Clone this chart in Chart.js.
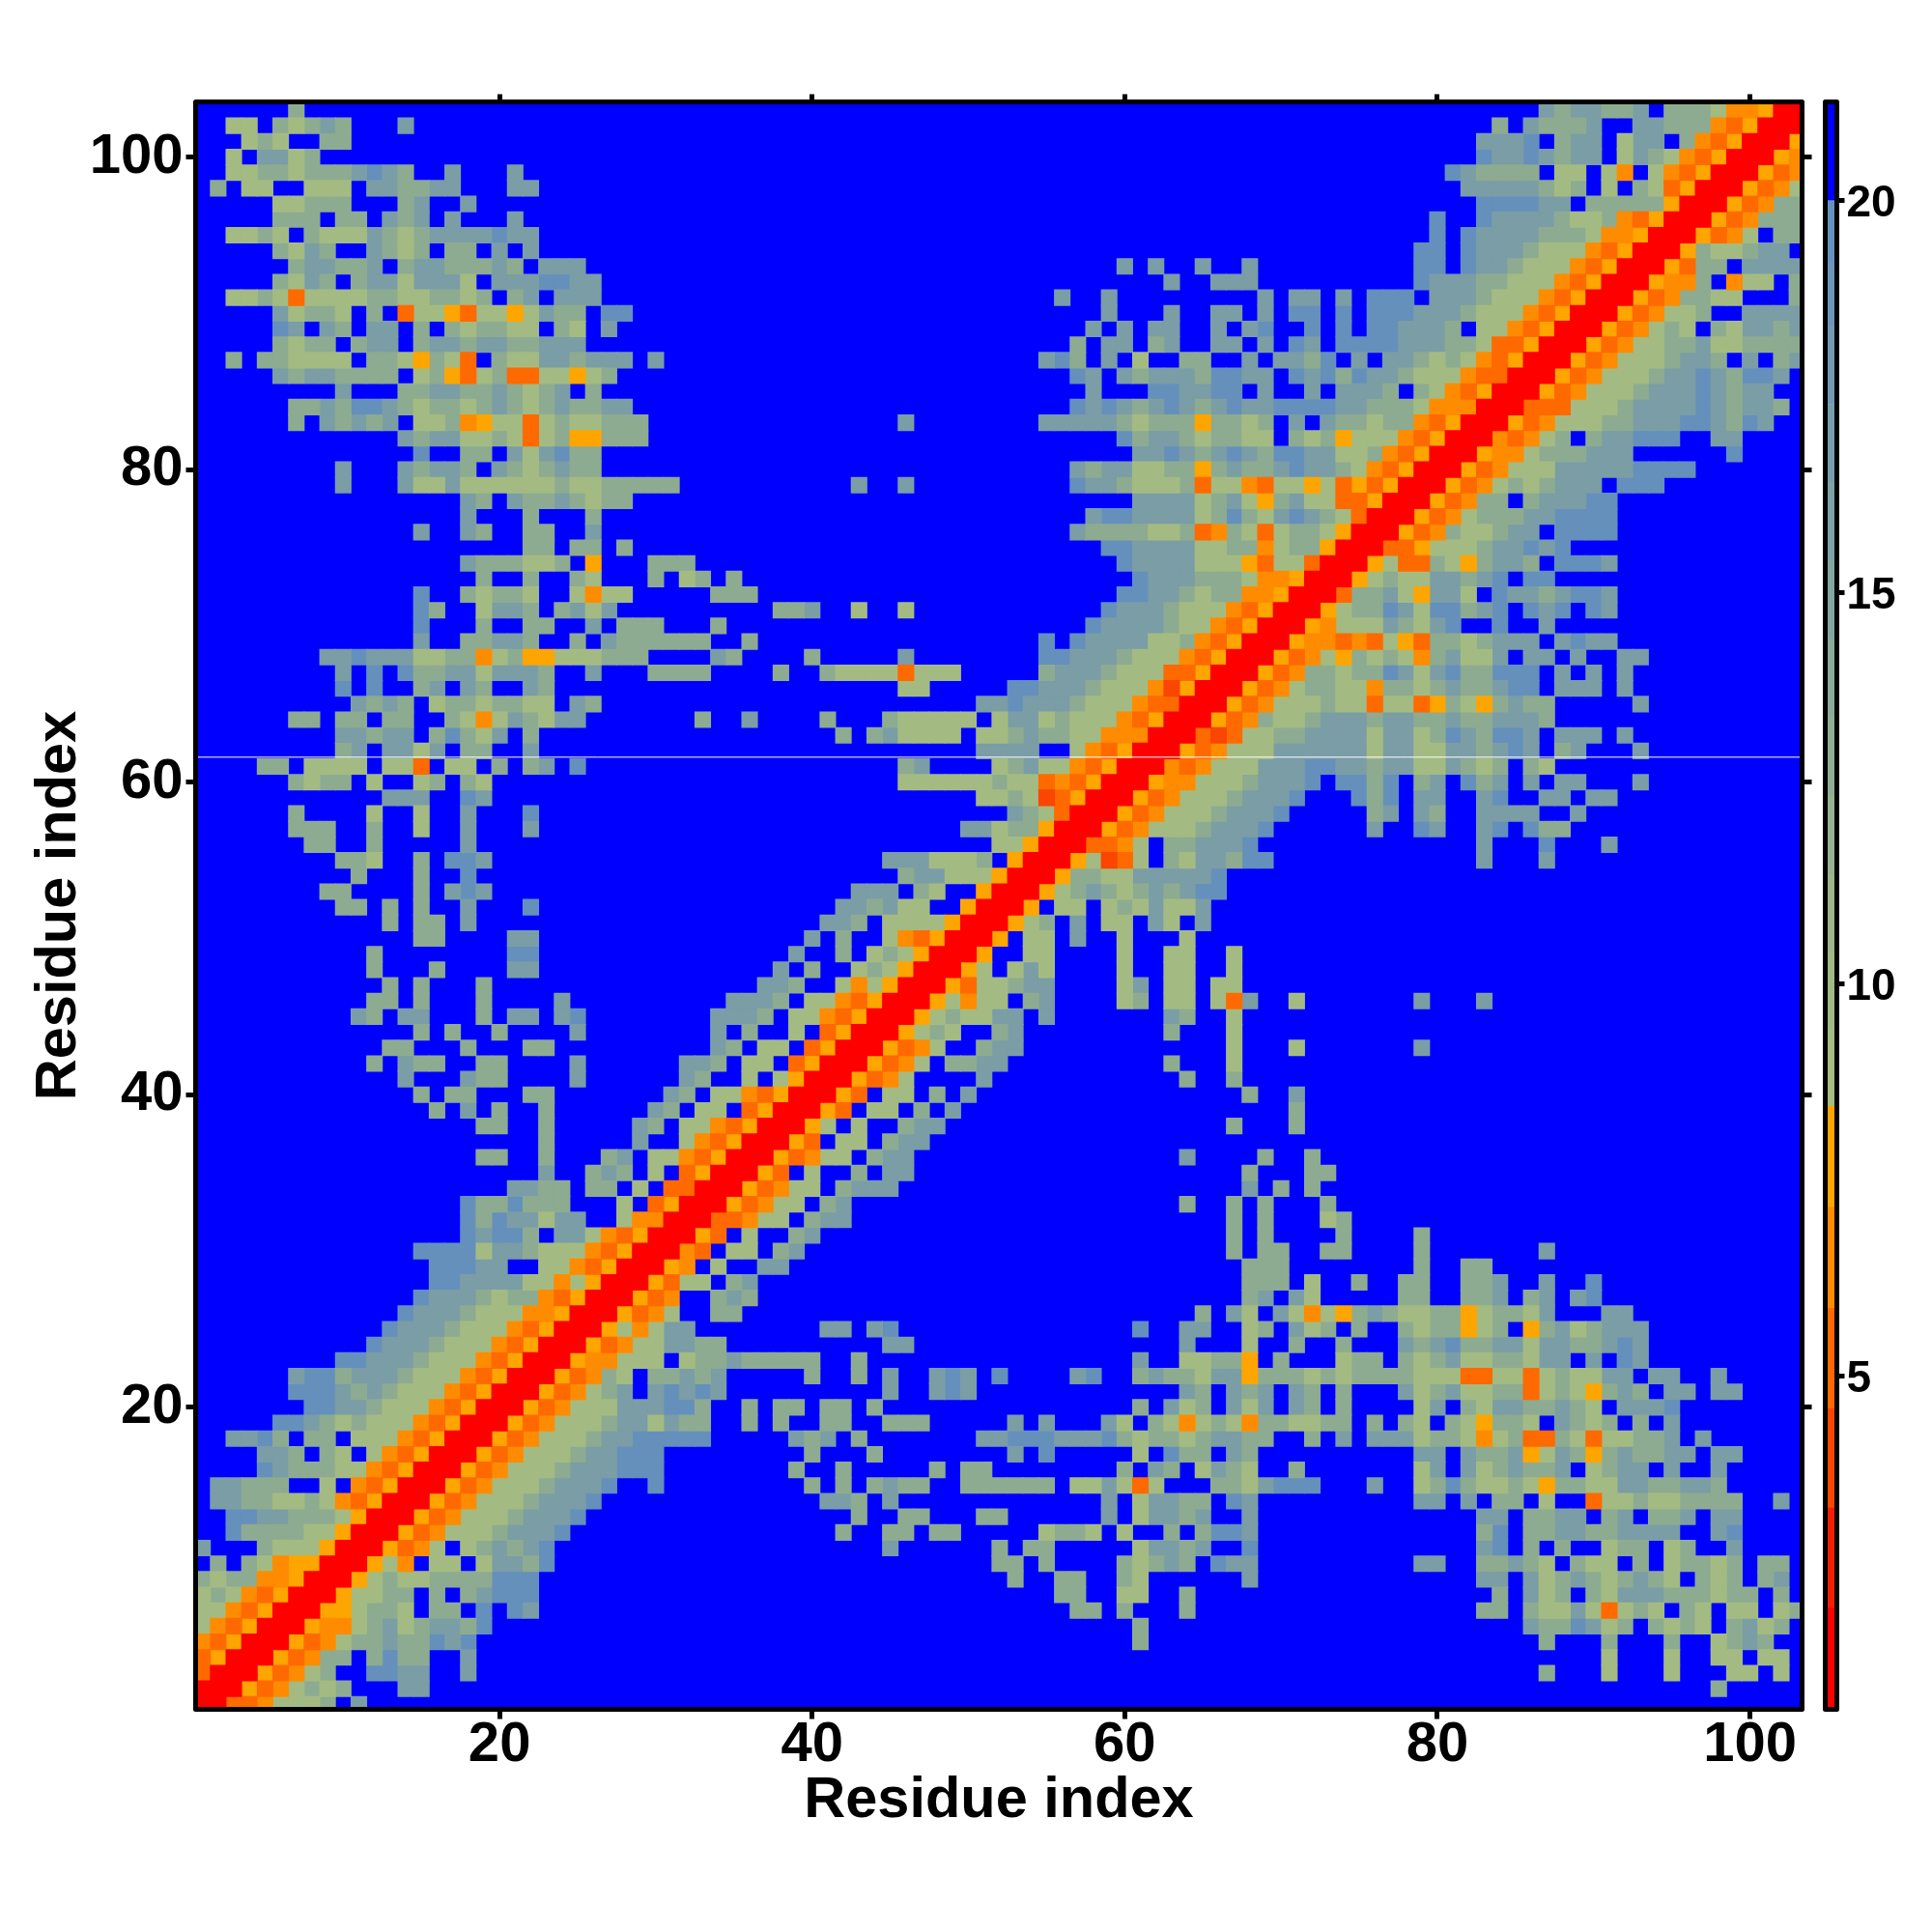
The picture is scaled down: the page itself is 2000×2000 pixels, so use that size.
<!DOCTYPE html>
<html>
<head>
<meta charset="utf-8">
<title>Residue contact map</title>
<script src="https://cdn.jsdelivr.net/npm/chart.js@4"></script>
<style>
html, body { margin: 0; padding: 0; background: #fff; }
canvas { position: absolute; left: 0; top: 0; }
</style>
</head>
<body>
<canvas id="mapChart" width="2000" height="2000"></canvas>
<canvas id="barChart" width="2000" height="2000"></canvas>
<script>
// upper-left half of the symmetric map, y = 103 down to y = 1
// each token is "first x:one letter per cell", anything not listed is level '.'
const contactRows = [
'7:b 87:cbcc 91:bbc.bbbaVVWRR',
'3:aa.babcb 14:c 84:b.cbbbc..ccbbbVUWRR',
'4:aba..bb 83:cccd.bcc.acc.bVUWRR',
'3:a.ccab 83:dccdcbcc.acbaVUWRR',
'3:aabbabbbcdcb..c...c 81:dcbbbb.aa.aV.aVUWRR',
'2:b.aa..aaa.ccbbcc...cc 82:cccccbab.a.baUWRR',
'6:aabbb...bc..c 83:ddddcc.bbbbbWRR',
'6:bbb.bb.cbc.c...c 80:d 83:dccccbaabVUWRR',
'3:aaba.baaacbabccccdcc 80:d 82:dccccbbbaVVWRR',
'6:bacb..cbab.bb.c.c 79:dd 82:dcccbaaaVUWRR',
'7:bccbbc.bccbbbcb.ccc 60:c 62:c 65:c 68:c 79:dd 82:dccbaaaVUWRR',
'6:bacb.bccaccca.cccddcc 63:c 66:ccc 79:dcccbbaaaVUWRR',
'3:aabaUaaaabbaabbab.bc.ccc 56:c 59:c 69:c 71:cc 74:c 76:ddd.cccbaaaVUWRR',
'6:cabba.b.UaaWUaaWacbb.dd 59:c 63:c 66:cc 69:c 71:dd 74:d 76:dddcccbaaaVUWRR',
'6:dc.cb.cc.b.babbaa.ba.c 58:c 60:c 62:cc 66:c.cd 72:d 74:d 76:ddcccb.aaVUWRR',
'6:babb.bcc.bccbccbbccc 57:b 59:cc 62:bc 66:cc.c 71:dc 74:ddddcccbbaUUWRR',
'3:b.bbaaaa.bbaWbaU.baaccbccc.c 55:cdb.c.a..bb..c.ccbd.c.ccbabaVUWRR',
'6:cbccbbbb.abWUabUUaaWab 57:dc.cbcccbddcc.dcdbdccbaaaVUURR',
'10:c...bbccbbcbabc.b 58:c 62:ddccdd.c..c.cccb.baVUWRR',
'7:bbcbddcbabbabcbabcbbcc 57:dcdcbcdcbcdccddddccbbbaVVVRR',
'7:b.cbcbc.aabVWaaUabaabbb 46:c 55:cccccbabbbWbbab.c.cbbabbVUWRR',
'14:cbccaabaUabWWbbb 60:dbccbabbaa.babWaaaVUWRR',
'15:d..bb.cacdbb 61:ccdcbcdcbddccaabVUWRR',
'10:c 14:cbccb.cbabcbb 57:cbccaabbWbcbbcdccbaVUWRR',
'10:c 14:caacaaaaaabaabbbbb 43:c 46:c 57:dccbaaabUaaVUaaWaUWUWRR',
'18:cb.cbbcbabb 61:ccccabcaWbcaaUUWRR',
'18:c 22:b 26:b 58:cddccccabdbacdcbaURR',
'15:c 18:cb 22:bb 26:c 57:cbbbbaabUVbaUabbaWRR',
'22:bb.bb.b 59:ddccccaabbVabbWRR',
'18:cbbbaab.W...bbb 60:dccccaaaWUaaURR',
'19:b 22:b 25:ba 30:b 32:ab 35:b 61:dcccbbbaVVWRR',
'15:d 18:babba..aVaa 34:bbb 60:ddccbabbVVWRR',
'15:db 19:accb.bcac 38:bbc 43:a 46:a 59:dcccbaaaVUWRR',
'15:d 19:b 22:bb 26:c 28:bbb 34:b 58:dccccbaaVUWRR',
'15:c 18:bbccb 25:b 27:cbbbbbb 36:b 55:d 57:dccccaabVUWRR',
'9:ccdcccaabbVabWWaaabbb 34:cb 40:b 46:c 55:ddcccbaaaVUWRR',
'10:c.d.dbbccacccb 26:c 30:bbbb 38:b 41:baaaaUaaa 55:bcccbaaaUUWRR',
'10:d 12:d 15:bc.cb..cb 46:aa 53:ddcccbaaaVTWRR',
'11:cbcb.abbabbaa.cb 51:ccdcccbaaaVUURR',
'7:bb.bb.bb..baVacbacc 33:b 36:c 41:b 45:baaaaa.accabaaaVUWRR',
'10:ccbcc.bdbac.b 42:b 44:bcaaaa.aabcbbaaVVVRR',
'10:bc.ccac.bb..c 51:cccc..aVUWRR',
'5:bb.aaaa.aaU.aa.b.bc.d 46:bc 52:abcaaVUWRR',
'7:babb.a..ab.ba 46:aaaaaabaaUVUWRR',
'13:ccc 18:dc 51:aabaTUWRR',
'7:b 12:a 15:a 18:c 22:d 53:cbaURR',
'7:bbb 12:b 15:a 18:c 22:c 50:ccabbWRR',
'8:bb 12:b 18:c 52:aaWRR',
'10:bba 15:b 17:ddc 45:cccaaab.WRR',
'11:b 15:b 18:d 46:bccaaaWRR',
'9:bb 15:b 17:cdc 43:ccc.ba..WRR',
'10:bb 13:b 15:b 18:c 22:d 42:ccbcaa..WRR',
'13:b 15:bb 18:c 41:ccb.aaaaWRR',
'15:bb 21:cc 40:c 42:b 45:aVUWRR',
'12:b 21:dd 39:c 42:b 44:abaWRR',
'12:b 16:b 21:cc 38:c.b 43:abaWRR',
'13:b 15:b 19:b 37:ccb 42:aVaWRR',
'12:bb 15:b 19:b 24:c 35:cccb.aaVUWRR',
'11:cb 14:cc 19:b 21:cc 24:cd 34:cccb.aaVUWRR',
'15:b 17:b 20:b 25:c 34:c.b..a.UWRR',
'13:bb 18:b 22:bb 34:cb.aa.UWRR',
'12:b 14:cbb 19:bb 25:c 32:ccb.aa.UWRR',
'14:c 18:cbb 25:c 32:cb..a.aWRR',
'15:b 17:bb 22:bb 31:cb.aaVUWRR',
'16:b 18:c 20:b 23:b 30:cb.aa.UWRR',
'19:bb 23:b 29:cb.aaVUWRR',
'23:b 29:c..aVUWRR',
'19:bb 23:b 27:bc.aaVUWRR',
'23:c 26:bcb.a.UWRR',
'21:ccbb 26:bb.a.UURR',
'18:dbbdbbb 28:a.UWRR',
'18:dbdccacc 28:aVVRR',
'18:dcddb.ccaVUWRR',
'15:ddddaccbaaaVUWRR',
'16:dddcc..aaVUWRR',
'16:ddccccaaVaWRR',
'15:dcccbabbVUWRR',
'14:dcccbaaaVVWRR',
'13:dcccbaaaVUWRR',
'12:dcccbaaaVUWRR',
'10:ddcccbaaaVUWRR',
'7:cddbcccbaaaVUWRR',
'7:dddcbcbaaaVUWRR',
'8:ddccbaaaVUWRR',
'6:ddcbabaaaVUWRR',
'3:ccdb.bb.aaaVUWRR',
'5:ccb.ba.aVUWRR',
'5:dcbbbaaVUWRR',
'2:ccbbb..a.VUWRR',
'2:ccbbaabaVUWRR',
'3:ddccbbbaWRR',
'3:dbbbbaaWRR',
'1:c...baaaWRR',
'2:b.baVWWRR',
'1:babbVVWRR',
'1:abaVUWRR',
'1:aaVUWRR',
'1:aVUWRR',
'1:VUWRR',
'1:UWRR',
'1:URR',
'1:RR',
'1:R'
];

const levelKeys = ['.', 'd', 'c', 'b', 'a', 'W', 'V', 'U', 'T', 'R'];
const levelColors = ['#0000ff', '#6490bb', '#7a9da6', '#8dab90', '#a3bb82', '#ffa500', '#ff8c00', '#ff6a00', '#fa4600', '#ff0000'];

const axisTicks = [20, 40, 60, 80, 100];
const barTicks = [5, 10, 15, 20];
const barEdges = [0.74, 2.03, 3.31, 4.58, 5.86, 7.15, 8.44, 9.4, 10.4, 11.4, 12.4, 13.4, 14.4, 15.4, 16.4, 17.4, 18.4, 19.2, 20, 21.26];
const barColors = ['#ff0000', '#f51e05', '#fa4600', '#ff6900', '#ff8c00', '#ffa500',
    '#a5bd80', '#a1ba84', '#9cb689', '#96b28f', '#90ae95', '#8aaa9b', '#84a6a1', '#7ea2a7', '#789ead', '#729ab3', '#6c96b9', '#6692bf', '#0000ff'];
const seamY = 61.6;

const fontFamily = '"Liberation Sans", Arial, sans-serif';

function buildCells() {
    const grid = [];
    for (let i = 0; i <= 103; i++) grid.push(new Array(104).fill('.'));
    contactRows.forEach((row, i) => {
        const y = 103 - i;
        row.split(' ').forEach(token => {
            const parts = token.split(':');
            const start = parseInt(parts[0], 10);
            for (let k = 0; k < parts[1].length; k++) {
                const x = start + k;
                grid[y][x] = parts[1][k];
                grid[x][y] = parts[1][k];
            }
        });
    });
    const cells = {};
    levelKeys.forEach(key => { cells[key] = []; });
    for (let y = 1; y <= 103; y++) {
        for (let x = 1; x <= 103; x++) {
            cells[grid[y][x]].push({ x: x, y: y });
        }
    }
    return cells;
}

const cells = buildCells();

const frame = {
    id: 'frame',
    afterDatasetsDraw(chart) {
        const { ctx, chartArea } = chart;
        ctx.save();
        ctx.strokeStyle = '#000';
        ctx.lineWidth = 5;
        ctx.lineJoin = 'round';
        ctx.strokeRect(chartArea.left, chartArea.top, chartArea.right - chartArea.left, chartArea.bottom - chartArea.top);
        ctx.restore();
    }
};

// the edges of the rect points are antialiased, this keeps white from showing through
const underlay = {
    id: 'underlay',
    beforeDatasetsDraw(chart) {
        const { ctx, chartArea } = chart;
        ctx.save();
        ctx.fillStyle = levelColors[0];
        ctx.fillRect(chartArea.left, chartArea.top, chartArea.right - chartArea.left, chartArea.bottom - chartArea.top);
        ctx.restore();
    }
};

function setTicks(values) {
    return scale => { scale.ticks = values.map(v => ({ value: v })); };
}

function fixWidth(w) {
    return scale => { scale.width = w; };
}

function fixHeight(h) {
    return scale => { scale.height = h; };
}

const tickFont = { family: fontFamily, size: 58, weight: 'bold' };
const titleFont = { family: fontFamily, size: 59.5, weight: 'bold' };

const mapDatasets = levelKeys.map((key, i) => ({
    label: key,
    data: cells[key],
    backgroundColor: levelColors[i],
    pointStyle: 'rect',
    pointRadius: 12.1,
    pointBorderWidth: 0,
    order: levelKeys.length - i + 1
}));
mapDatasets.push({
    type: 'line',
    label: 'seam',
    data: [{ x: 0.556, y: seamY }, { x: 103.33, y: seamY }],
    borderColor: '#ffffff',
    borderWidth: 1,
    pointRadius: 0,
    order: 0
});

new Chart(document.getElementById('mapChart').getContext('2d'), {
    type: 'scatter',
    data: { datasets: mapDatasets },
    options: {
        responsive: false,
        devicePixelRatio: 1,
        animation: false,
        events: [],
        layout: { padding: 0 },
        plugins: { legend: { display: false }, tooltip: { enabled: false } },
        scales: {
            x: {
                type: 'linear', position: 'bottom', min: 0.556, max: 103.33,
                afterBuildTicks: setTicks(axisTicks),
                afterFit: fixHeight(230.5),
                border: { display: false },
                grid: { drawOnChartArea: false, tickLength: 10, tickWidth: 5, tickColor: '#000' },
                ticks: { color: '#000', font: tickFont, padding: -7, maxRotation: 0, autoSkip: false },
                title: { display: true, text: 'Residue index', color: '#000', font: titleFont, padding: { top: 0, bottom: 100 } }
            },
            y: {
                type: 'linear', position: 'left', min: 0.68, max: 103.525,
                afterBuildTicks: setTicks(axisTicks),
                afterFit: fixWidth(202.5),
                border: { display: false },
                grid: { drawOnChartArea: false, tickLength: 10, tickWidth: 5, tickColor: '#000' },
                ticks: { color: '#000', font: tickFont, padding: 3, autoSkip: false },
                title: { display: true, text: 'Residue index', color: '#000', font: titleFont, padding: { top: 26, bottom: 0 } }
            },
            xTop: {
                type: 'linear', position: 'top', min: 0.556, max: 103.33,
                afterBuildTicks: setTicks(axisTicks),
                afterFit: fixHeight(105.5),
                border: { display: false },
                grid: { drawOnChartArea: false, tickLength: 8, tickWidth: 5, tickColor: '#000' },
                ticks: { display: false }
            },
            yRight: {
                type: 'linear', position: 'right', min: 0.68, max: 103.525,
                afterBuildTicks: setTicks(axisTicks),
                afterFit: fixWidth(134.5),
                border: { display: false },
                grid: { drawOnChartArea: false, tickLength: 10, tickWidth: 5, tickColor: '#000' },
                ticks: { display: false }
            }
        }
    },
    plugins: [underlay, frame]
});

new Chart(document.getElementById('barChart').getContext('2d'), {
    type: 'bar',
    data: {
        labels: ['distance'],
        datasets: barColors.map((color, i) => ({
            data: [[barEdges[i], barEdges[i + 1]]],
            backgroundColor: color,
            borderWidth: 0,
            barPercentage: 1,
            categoryPercentage: 1,
            grouped: false
        }))
    },
    options: {
        responsive: false,
        devicePixelRatio: 1,
        animation: false,
        events: [],
        layout: { padding: { left: 1889.5, top: 105.5, bottom: 230.5 } },
        plugins: { legend: { display: false }, tooltip: { enabled: false } },
        scales: {
            x: { display: false },
            y: {
                position: 'right', min: 0.74, max: 21.26,
                afterBuildTicks: setTicks(barTicks),
                afterFit: fixWidth(98.5),
                border: { display: false },
                grid: { drawOnChartArea: false, tickLength: 8, tickWidth: 5, tickColor: '#000' },
                ticks: {
                    color: '#000',
                    font: { family: fontFamily, size: 46, weight: 'bold', lineHeight: '8px' },
                    padding: 2,
                    autoSkip: false,
                    // an empty first line drops the number a few px below its tick, as in the reference
                    callback: v => ['', String(v)]
                }
            }
        }
    },
    plugins: [frame]
});
</script>
</body>
</html>
